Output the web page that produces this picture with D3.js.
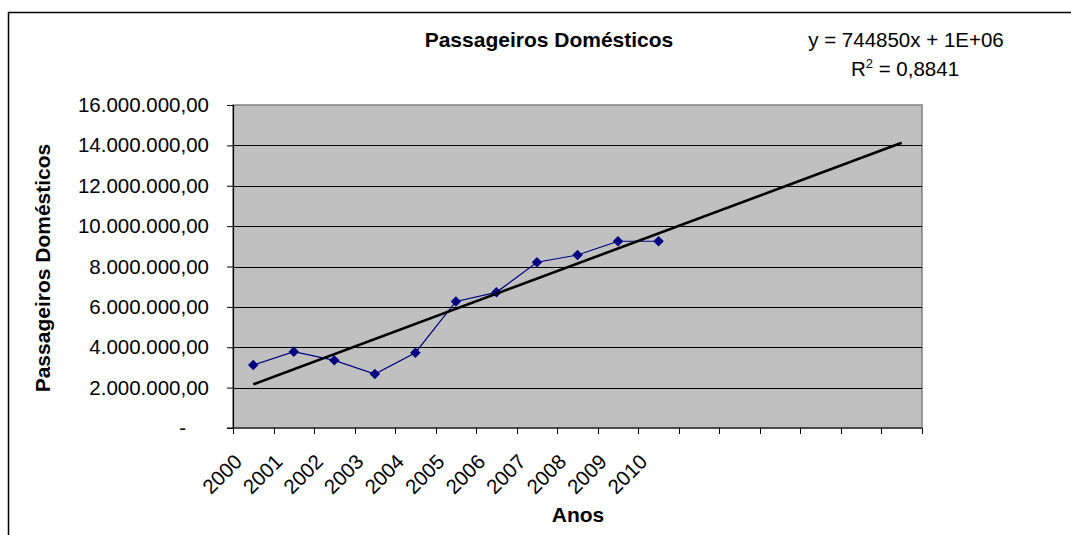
<!DOCTYPE html>
<html>
<head>
<meta charset="utf-8">
<script src="https://cdn.jsdelivr.net/npm/d3@7"></script>
<style>
  html, body { margin: 0; padding: 0; background: #fff; }
  svg { display: block; font-family: "Liberation Sans", Arial, sans-serif; }
</style>
</head>
<body>
<svg id="chart" width="1071" height="535"></svg>
<script>
// Domestic passengers per year (2000–2010)
const years = ["2000", "2001", "2002", "2003", "2004", "2005", "2006", "2007", "2008", "2009", "2010"];
const passengers = [3120000, 3780000, 3350000, 2670000, 3730000, 6270000, 6720000, 8210000, 8570000, 9250000, 9250000];
// trendline is projected forward this many periods
const forecastPeriods = 6;
const yTicks = [0, 2000000, 4000000, 6000000, 8000000, 10000000, 12000000, 14000000, 16000000];
const titleText = "Passageiros Domésticos";
const yTitleText = "Passageiros Domésticos";
const xTitleText = "Anos";
const equationText = "y = 744850x + 1E+06";
const r2Value = "0,8841";

const svg = d3.select("#chart");
const plot = { left: 233, right: 922, top: 105, bottom: 428 };

const nCats = years.length + forecastPeriods;
const catIdx = d3.range(1, nCats + 1);
const x = d3.scaleBand().domain(catIdx).range([plot.left, plot.right]).padding(0);
const y = d3.scaleLinear().domain([0, 16000000]).range([plot.bottom, plot.top]);
const cx = i => x(i) + x.bandwidth() / 2;

const ptBR = d3.formatLocale({ decimal: ",", thousands: ".", grouping: [3], currency: ["R$", ""] });
const fmt = ptBR.format(",.2f");

// chart frame
svg.append("rect")
  .attr("x", 8.5).attr("y", 12.5)
  .attr("width", 1080).attr("height", 540)
  .attr("fill", "#fff").attr("stroke", "#000").attr("stroke-width", 1.5);

// plot area
svg.append("rect")
  .attr("x", plot.left).attr("y", plot.top)
  .attr("width", plot.right - plot.left).attr("height", plot.bottom - plot.top)
  .attr("fill", "#c0c0c0").attr("stroke", "#808080").attr("stroke-width", 1.5);

// gridlines
svg.append("g")
  .selectAll("line")
  .data(yTicks.filter(v => v > 0 && v < 16000000))
  .join("line")
  .attr("x1", plot.left).attr("x2", plot.right)
  .attr("y1", d => Math.round(y(d)) + 0.5).attr("y2", d => Math.round(y(d)) + 0.5)
  .attr("stroke", "#000").attr("stroke-width", 1);

// y axis
const yAxis = svg.append("g")
  .attr("transform", `translate(${plot.left},0)`)
  .call(d3.axisLeft(y).tickValues(yTicks).tickSize(6).tickPadding(18)
    .tickFormat(d => d === 0 ? "-" : fmt(d)));
yAxis.select(".domain").attr("stroke", "#000").attr("stroke-width", 1.2);
yAxis.selectAll(".tick line").attr("stroke", "#000");
yAxis.selectAll(".tick text")
  .attr("font-size", 20.5).attr("fill", "#000")
  .attr("font-family", "Liberation Sans, Arial, sans-serif")
  .attr("dx", d => d === 0 ? -23 : 0);

// x axis (category boundaries as ticks)
const xAxisG = svg.append("g");
xAxisG.append("line")
  .attr("x1", plot.left - 6).attr("x2", plot.right)
  .attr("y1", plot.bottom).attr("y2", plot.bottom)
  .attr("stroke", "#000").attr("stroke-width", 1.2);
xAxisG.selectAll("line.tick")
  .data(d3.range(0, nCats + 1))
  .join("line")
  .attr("class", "tick")
  .attr("x1", k => Math.round(plot.left + k * x.bandwidth()) + 0.5)
  .attr("x2", k => Math.round(plot.left + k * x.bandwidth()) + 0.5)
  .attr("y1", plot.bottom).attr("y2", plot.bottom + 6)
  .attr("stroke", "#000");
xAxisG.selectAll("text")
  .data(years.map((yr, i) => ({ yr, i: i + 1 })))
  .join("text")
  .attr("transform", d => `translate(${cx(d.i) - 10},${plot.bottom + 35}) rotate(-45)`)
  .attr("text-anchor", "end")
  .attr("font-size", 20.5)
  .attr("fill", "#000")
  .text(d => d.yr);

// linear trendline (least squares), projected forward
const xs = years.map((_, i) => i + 1);
const mx = d3.mean(xs), my = d3.mean(passengers);
const slope = d3.sum(xs, (v, i) => (v - mx) * (passengers[i] - my)) / d3.sum(xs, v => (v - mx) ** 2);
const intercept = my - slope * mx;
const trend = [1, nCats].map(i => ({ i, v: slope * i + intercept }));

// series line
svg.append("path")
  .datum(passengers.map((v, k) => ({ i: k + 1, v })))
  .attr("fill", "none")
  .attr("stroke", "#000080")
  .attr("stroke-width", 1.2)
  .attr("d", d3.line().x(d => cx(d.i)).y(d => y(d.v)));

// markers
svg.append("g")
  .selectAll("path")
  .data(passengers.map((v, k) => ({ i: k + 1, v })))
  .join("path")
  .attr("transform", d => `translate(${cx(d.i)},${y(d.v)})`)
  .attr("d", d3.symbol().type(d3.symbolDiamond2).size(70))
  .attr("fill", "#000080");

svg.append("path")
  .datum(trend)
  .attr("fill", "none")
  .attr("stroke", "#000")
  .attr("stroke-width", 2.6)
  .attr("d", d3.line().x(d => cx(d.i)).y(d => y(d.v)));

// titles
svg.append("text")
  .attr("x", 549).attr("y", 47)
  .attr("text-anchor", "middle")
  .attr("font-size", 21).attr("font-weight", "bold")
  .text(titleText);

svg.append("text")
  .attr("transform", "translate(50,268) rotate(-90)")
  .attr("text-anchor", "middle")
  .attr("font-size", 21).attr("font-weight", "bold")
  .text(yTitleText);

svg.append("text")
  .attr("x", 578).attr("y", 522)
  .attr("text-anchor", "middle")
  .attr("font-size", 21).attr("font-weight", "bold")
  .text(xTitleText);

// trendline equation and R²
svg.append("text")
  .attr("x", 906).attr("y", 47)
  .attr("text-anchor", "middle")
  .attr("font-size", 20.5)
  .text(equationText);

const r2 = svg.append("text")
  .attr("x", 905).attr("y", 76)
  .attr("text-anchor", "middle")
  .attr("font-size", 20.5);
r2.append("tspan").text("R");
r2.append("tspan").attr("dy", -8).attr("font-size", 13).text("2");
r2.append("tspan").attr("dy", 8).text(" = " + r2Value);
</script>
</body>
</html>
